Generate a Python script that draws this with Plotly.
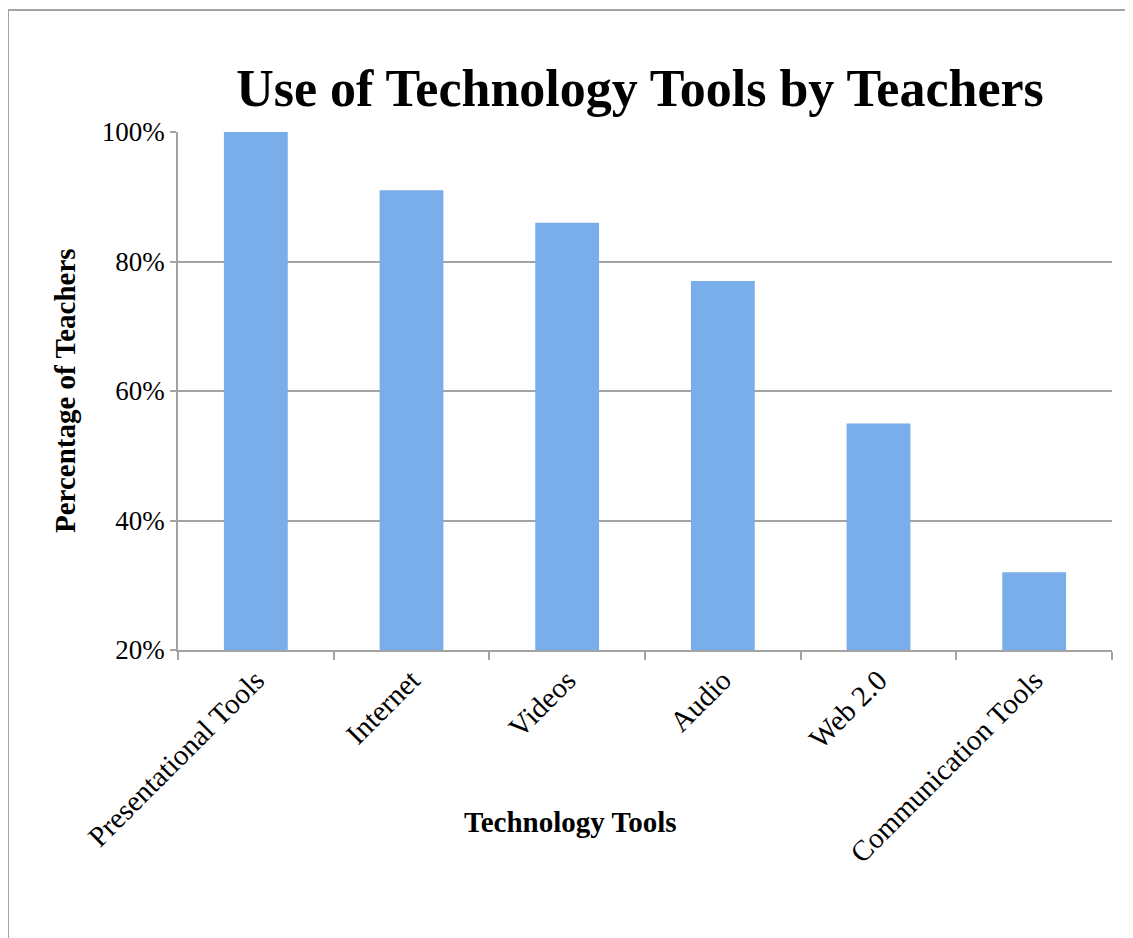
import plotly.graph_objects as go

categories = ["Presentational Tools", "Internet", "Videos", "Audio", "Web 2.0", "Communication Tools"]
values = [100, 91, 86, 77, 55, 32]
y_ticks = [20, 40, 60, 80, 100]
y_tick_labels = ["20%", "40%", "60%", "80%", "100%"]

FONT = "Liberation Serif"
GRAY = "#a3a3a3"

OFF = 8  # page body margin offset
W, H = 1125, 930
L, R, T, B = 178 - OFF, 21, 132 - OFF, 288
pw, ph = W - L - R, H - T - B

def px_to_paper_x(px):
    return (px - OFF - L) / pw

def px_to_paper_y(py):
    return (H - B - (py - OFF)) / ph

fig = go.Figure()
fig.add_trace(go.Bar(
    x=categories, y=values,
    marker=dict(color="#79aeea", line=dict(width=0)),
    width=0.41,
))

fig.update_layout(
    width=W, height=H,
    margin=dict(l=L, r=R, t=T, b=B),
    paper_bgcolor="white", plot_bgcolor="white",
    showlegend=False,
    title=dict(text="<b>Use of Technology Tools by Teachers</b>",
               font=dict(family=FONT, size=52, color="black"),
               xref="container", x=(640 - OFF) / W, xanchor="center",
               yref="container", y=1 - (88 - OFF) / H, yanchor="middle"),
    xaxis=dict(
        type="category",
        tickangle=-45,
        tickfont=dict(family=FONT, size=29, color="black"),
        ticks="outside", tickson="boundaries", ticklen=8, tickcolor=GRAY, tickwidth=1.5,
        showline=True, linecolor=GRAY, linewidth=1.5,
        showgrid=False,
    ),
    yaxis=dict(
        range=[20, 100],
        tickvals=y_ticks, ticktext=y_tick_labels,
        tickfont=dict(family=FONT, size=27, color="black"),
        ticks="outside", ticklen=6, tickcolor=GRAY, tickwidth=1.5,
        showline=True, linecolor=GRAY, linewidth=1.5,
        showgrid=True, gridcolor=GRAY, gridwidth=1.5,
        zeroline=False,
    ),
    annotations=[
        dict(text="<b>Technology Tools</b>", xref="paper", yref="paper",
             x=px_to_paper_x(570), y=px_to_paper_y(822), xanchor="center", yanchor="middle",
             showarrow=False, font=dict(family=FONT, size=29, color="black")),
        dict(text="<b>Percentage of Teachers</b>", xref="paper", yref="paper",
             x=px_to_paper_x(65), y=px_to_paper_y(391), xanchor="center", yanchor="middle",
             textangle=-90, showarrow=False, font=dict(family=FONT, size=29, color="black")),
    ],
    shapes=[
        dict(type="line", xref="paper", yref="paper",
             x0=px_to_paper_x(8), x1=px_to_paper_x(1140), y0=px_to_paper_y(10), y1=px_to_paper_y(10),
             line=dict(color=GRAY, width=2)),
        dict(type="line", xref="paper", yref="paper",
             x0=px_to_paper_x(8), x1=px_to_paper_x(8), y0=px_to_paper_y(10), y1=px_to_paper_y(945),
             line=dict(color=GRAY, width=2)),
    ],
)

fig.write_html("out.html")
